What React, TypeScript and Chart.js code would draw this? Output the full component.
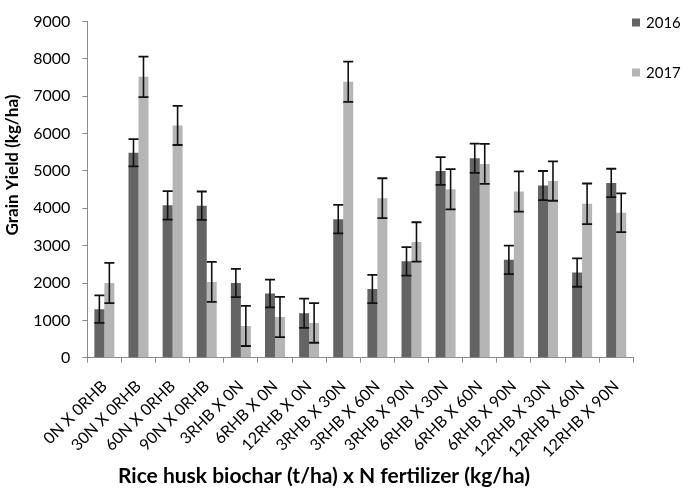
import React, { useEffect, useRef } from "react";
import { Chart, registerables } from "chart.js";

Chart.register(...registerables);

const categories = [
  "0N X 0RHB",
  "30N X 0RHB",
  "60N X 0RHB",
  "90N X 0RHB",
  "3RHB X 0N",
  "6RHB X 0N",
  "12RHB X 0N",
  "3RHB X 30N",
  "3RHB X 60N",
  "3RHB X 90N",
  "6RHB X 30N",
  "6RHB X 60N",
  "6RHB X 90N",
  "12RHB X 30N",
  "12RHB X 60N",
  "12RHB X 90N",
];

const yield2016 = [1300, 5490, 4080, 4070, 2000, 1720, 1190, 3710, 1840, 2580, 5000, 5340, 2620, 4610, 2280, 4680];
const err2016 = [370, 365, 380, 380, 380, 370, 390, 380, 380, 380, 370, 390, 380, 390, 380, 380];
const yield2017 = [2000, 7520, 6220, 2030, 850, 1090, 930, 7390, 4270, 3100, 4510, 5190, 4450, 4730, 4120, 3880];
const err2017 = [540, 540, 525, 535, 537, 537, 530, 537, 535, 527, 537, 537, 537, 527, 545, 520];

const seriesLabels = ["2016", "2017"];
const yTicks = [0, 1000, 2000, 3000, 4000, 5000, 6000, 7000, 8000, 9000];
const xTitle = "Rice husk biochar (t/ha) x N fertilizer (kg/ha)";
const yTitle = "Grain Yield (kg/ha)";

const DARK = "#646464";
const LIGHT = "#b5b5b5";
const AXIS = "#8c8c8c";
const FONT = "Lato, 'Open Sans', sans-serif";

const errorBarPlugin = {
  id: "errorBars",
  afterDatasetsDraw(chart: any) {
    const ctx = chart.ctx;
    const yScale = chart.scales.y;
    const errs = [err2016, err2017];
    chart.data.datasets.forEach((ds: any, di: number) => {
      const meta = chart.getDatasetMeta(di);
      meta.data.forEach((bar: any, i: number) => {
        const v = ds.data[i];
        const e = errs[di][i];
        const x = bar.x;
        const yT = yScale.getPixelForValue(v + e);
        const yB = yScale.getPixelForValue(v - e);
        ctx.save();
        ctx.strokeStyle = "#111111";
        ctx.lineWidth = 1.6;
        ctx.beginPath();
        ctx.moveTo(x, yT);
        ctx.lineTo(x, yB);
        ctx.stroke();
        ctx.lineWidth = 1.8;
        ctx.beginPath();
        ctx.moveTo(x - 5, yT);
        ctx.lineTo(x + 5, yT);
        ctx.moveTo(x - 5, yB);
        ctx.lineTo(x + 5, yB);
        ctx.stroke();
        ctx.restore();
      });
    });
  },
};

const decorPlugin = {
  id: "decor",
  afterDraw(chart: any) {
    const ctx = chart.ctx;
    ctx.save();
    // legend
    ctx.font = `15px ${FONT}`;
    ctx.textBaseline = "middle";
    ctx.textAlign = "left";
    const legendY = [22.5, 72.5];
    chart.data.datasets.forEach((ds: any, i: number) => {
      const y = legendY[i];
      ctx.fillStyle = ds.backgroundColor;
      ctx.fillRect(632, y - 4, 8, 8);
      ctx.fillStyle = "#000";
      ctx.fillText(ds.label, 646, y + 0.5);
    });
    // axis titles
    ctx.font = `bold 21px ${FONT}`;
    ctx.fillStyle = "#000";
    ctx.textAlign = "center";
    ctx.textBaseline = "middle";
    ctx.fillText(xTitle, 324, 476);
    ctx.translate(13, 165);
    ctx.rotate(-Math.PI / 2);
    ctx.font = `bold 17px ${FONT}`;
    ctx.fillText(yTitle, 0, 0);
    ctx.restore();
  },
};

export default function App() {
  const ref = useRef<HTMLCanvasElement | null>(null);
  useEffect(() => {
    if (!ref.current) return;
    const chart = new Chart(ref.current, {
      type: "bar",
      data: {
        labels: categories,
        datasets: [
          { label: seriesLabels[0], data: yield2016, backgroundColor: DARK, borderWidth: 0 },
          { label: seriesLabels[1], data: yield2017, backgroundColor: LIGHT, borderWidth: 0 },
        ],
      },
      options: {
        responsive: false,
        animation: false,
        events: [],
        layout: { padding: { left: 0, right: 51.7, top: 10.7, bottom: 0 } },
        datasets: { bar: { categoryPercentage: 0.585, barPercentage: 1 } },
        plugins: {
          legend: { display: false },
          tooltip: { enabled: false },
          title: { display: false },
        },
        scales: {
          x: {
            afterFit: (s: any) => {
              s.height = 133.3;
            },
            grid: {
              drawOnChartArea: false,
              drawTicks: true,
              tickLength: 5,
              color: AXIS,
              offset: true,
            },
            border: { display: true, color: AXIS, width: 1 },
            ticks: {
              minRotation: 45,
              maxRotation: 45,
              autoSkip: false,
              padding: 14,
              color: "#000",
              font: { family: FONT, size: 16 },
            },
          },
          y: {
            min: 0,
            max: 9000,
            afterFit: (s: any) => {
              s.width = 87.3;
            },
            afterBuildTicks: (s: any) => {
              s.ticks = yTicks.map((v) => ({ value: v }));
            },
            grid: {
              drawOnChartArea: false,
              drawTicks: true,
              tickLength: 5,
              color: AXIS,
            },
            border: { display: true, color: AXIS, width: 1 },
            ticks: {
              padding: 12,
              color: "#000",
              font: { family: FONT, size: 16 },
              callback: (v: any) => String(v),
            },
          },
        },
      },
      plugins: [errorBarPlugin, decorPlugin],
    });
    return () => chart.destroy();
  }, []);
  return (
    <div style={{ position: "fixed", left: 0, top: 0, width: 685, height: 491, background: "#fff" }}>
      <canvas ref={ref} width={685} height={491} />
    </div>
  );
}
